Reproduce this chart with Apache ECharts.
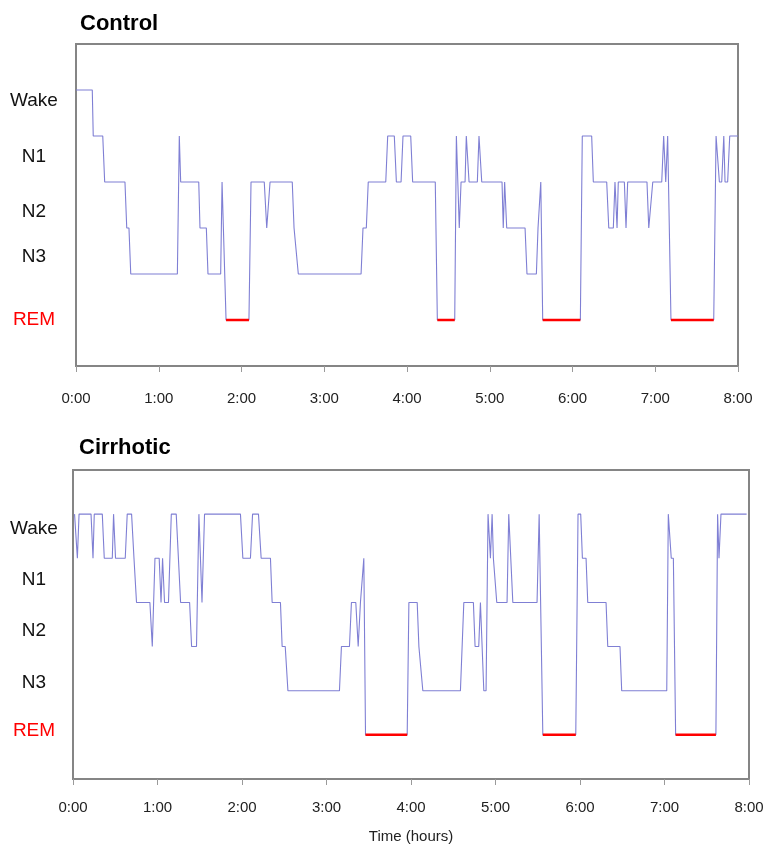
<!DOCTYPE html>
<html>
<head>
<meta charset="utf-8">
<script src="https://cdn.jsdelivr.net/npm/echarts@6/dist/echarts.min.js"></script>
<style>
  html, body { margin: 0; padding: 0; background: #fff; }
  #chart { width: 778px; height: 845px; }
</style>
</head>
<body>
<div id="chart"></div>
<script>
// stage levels: 5 = Wake, 4 = N1, 3 = N2, 2 = N3, 1 = deep, 0 = REM
const stageNames = ['Wake', 'N1', 'N2', 'N3', 'REM'];
const controlLabelAt = [4.76, 3.54, 2.35, 1.37, 0];
const cirrhoticLabelAt = [4.67, 3.52, 2.36, 1.19, 0.09];

// time in minutes from lights off
const controlTime = [
  0, 11.8, 12.5, 19.4, 20.8, 35.5, 36.8, 38.4, 39.7, 73.5,
  74.9, 75.9, 89.0, 89.9, 94.5, 95.7, 104.9, 105.9, 107.3, 108.8,
  125.4, 126.9, 136.5, 138.3, 139.2, 140.7, 156.8, 158.1, 159.3, 161.2,
  206.7, 208.1, 210.5, 211.9, 224.6, 226.0, 230.8, 232.3, 235.7, 237.1,
  242.7, 244.1, 260.5, 262.0, 274.6, 275.8, 277.9, 279.2, 282.1, 283.0,
  284.0, 285.0, 291.0, 292.2, 294.2, 308.9, 309.8, 310.8, 312.3, 325.6,
  327.0, 333.8, 335.0, 335.5, 337.0, 338.4, 365.7, 367.1, 373.9, 375.1,
  384.8, 386.3, 389.6, 390.8, 392.3, 393.2, 397.6, 398.8, 400.0, 414.0,
  415.3, 416.7, 418.2, 424.7, 426.1, 427.6, 429.0, 431.4, 462.4, 464.1,
  465.3, 466.5, 468.2, 469.7, 470.6, 472.5, 474.0, 480
];
const controlStage = [
  5, 5, 4, 4, 3, 3, 2, 2, 1, 1,
  4, 3, 3, 2, 2, 1, 1, 3, 3, 0,
  0, 3, 3, 2, 2, 3, 3, 2, 2, 1,
  1, 2, 2, 3, 3, 4, 4, 3, 3, 4,
  4, 3, 3, 0, 0, 4, 2, 3, 3, 4,
  4, 3, 3, 4, 3, 3, 2, 3, 2, 2,
  1, 1, 2, 2, 3, 0, 0, 4, 4, 3,
  3, 2, 2, 3, 2, 3, 3, 2, 3, 3,
  2, 2, 3, 3, 4, 3, 4, 0, 0, 4,
  4, 3, 3, 4, 3, 3, 4, 4
];

const cirrhoticTime = [
  1.1, 3.1, 4.3, 12.8, 14.2, 15.1, 20.8, 22.2, 27.9, 28.8,
  30.2, 37.1, 38.5, 41.6, 43.3, 44.0, 45.1, 54.6, 56.3, 57.2,
  58.2, 61.2, 62.5, 63.6, 65.0, 67.8, 69.8, 73.3, 76.4, 82.8,
  84.2, 87.7, 89.4, 91.6, 93.4, 118.9, 120.6, 126.0, 127.5, 131.7,
  133.6, 140.2, 141.4, 147.3, 148.5, 150.7, 152.6, 189.2, 190.6, 196.3,
  197.7, 200.8, 202.5, 204.1, 205.1, 206.5, 207.7, 237.3, 238.5, 244.4,
  245.6, 246.7, 248.4, 275.1, 277.5, 284.3, 285.5, 288.1, 289.3, 290.3,
  291.7, 293.3, 294.7, 296.4, 297.6, 298.5, 299.2, 300.9, 308.2, 309.4,
  310.4, 312.3, 329.5, 331.0, 331.6, 333.6, 357.0, 358.6, 360.5, 361.7,
  364.3, 365.5, 378.5, 379.7, 388.4, 389.6, 421.6, 422.7, 423.4, 424.8,
  426.3, 427.9, 456.5, 457.7, 458.7, 460.1, 478.3
];
const cirrhoticStage = [
  5, 4, 5, 5, 4, 5, 5, 4, 4, 5,
  4, 4, 5, 5, 4, 4, 3, 3, 2, 2,
  4, 4, 3, 4, 3, 3, 5, 5, 3, 3,
  2, 2, 5, 3, 5, 5, 4, 4, 5, 5,
  4, 4, 3, 3, 2, 2, 1, 1, 2, 2,
  3, 3, 2, 3, 3, 4, 0, 0, 3, 3,
  2, 2, 1, 1, 3, 3, 2, 2, 3, 3,
  1, 1, 5, 4, 5, 4, 4, 3, 3, 5,
  5, 3, 3, 5, 5, 0, 0, 5, 5, 4,
  4, 3, 3, 2, 2, 1, 1, 5, 5, 4,
  4, 0, 0, 5, 4, 5, 5
];

function pairs (times, stages) {
  return times.map((t, i) => [t, stages[i]]);
}
// only the REM runs, everything else left empty so the line breaks
function remPairs (times, stages) {
  return times.map((t, i) => [t, stages[i] === 0 ? 0 : null]);
}

const chart = echarts.init(document.getElementById('chart'));
const font = 'Liberation Sans, Arial, sans-serif';

function xAxisFor (gridIndex, labelMargin, withName) {
  return {
    gridIndex: gridIndex,
    type: 'value',
    min: 0,
    max: 480,
    interval: 60,
    axisLine: { show: false, onZero: false },
    axisTick: { show: true, length: 6, lineStyle: { color: '#9a9a9a', width: 1 } },
    splitLine: { show: false },
    axisLabel: {
      margin: labelMargin,
      fontSize: 15,
      color: '#222',
      fontFamily: font,
      formatter: v => (v / 60) + ':00'
    },
    name: withName ? 'Time (hours)' : '',
    nameLocation: 'middle',
    nameGap: 50,
    nameTextStyle: { fontSize: 15, color: '#222', fontFamily: font }
  };
}

function yAxisFor (gridIndex, labelAt, margin) {
  return {
    gridIndex: gridIndex,
    type: 'value',
    min: -1,
    max: 6,
    axisLine: { show: false, onZero: false },
    axisTick: { show: false },
    splitLine: { show: false },
    axisLabel: {
      customValues: labelAt,
      margin: margin,
      align: 'center',
      fontSize: 19,
      color: '#111',
      fontFamily: font,
      formatter: v => {
        const name = stageNames[labelAt.indexOf(v)];
        return name === 'REM' ? '{rem|REM}' : name;
      },
      rich: {
        rem: { color: '#ff0000', fontSize: 19, fontFamily: font }
      }
    }
  };
}

const lineColor = '#7f7fd4';
const remColor = '#ff0000';

chart.setOption({
  animation: false,
  backgroundColor: '#fff',
  title: [
    { text: 'Control', left: 75, top: 8, textStyle: { fontSize: 22, fontWeight: 'bold', color: '#000', fontFamily: font } },
    { text: 'Cirrhotic', left: 74, top: 432, textStyle: { fontSize: 22, fontWeight: 'bold', color: '#000', fontFamily: font } }
  ],
  grid: [
    { left: 76, top: 44, width: 662, height: 322, show: true, borderColor: '#858585', borderWidth: 2, backgroundColor: 'transparent', outerBoundsMode: 'none', containLabel: false },
    { left: 73, top: 470, width: 676, height: 309, show: true, borderColor: '#858585', borderWidth: 2, backgroundColor: 'transparent', outerBoundsMode: 'none', containLabel: false }
  ],
  xAxis: [xAxisFor(0, 25, false), xAxisFor(1, 21, true)],
  yAxis: [yAxisFor(0, controlLabelAt, 42), yAxisFor(1, cirrhoticLabelAt, 39)],
  series: [
    {
      name: 'Control',
      type: 'line',
      xAxisIndex: 0,
      yAxisIndex: 0,
      showSymbol: false,
      data: pairs(controlTime, controlStage),
      lineStyle: { color: lineColor, width: 1.1 }
    },
    {
      name: 'Control REM',
      type: 'line',
      xAxisIndex: 0,
      yAxisIndex: 0,
      showSymbol: false,
      connectNulls: false,
      data: remPairs(controlTime, controlStage),
      lineStyle: { color: remColor, width: 2.5 }
    },
    {
      name: 'Cirrhotic',
      type: 'line',
      xAxisIndex: 1,
      yAxisIndex: 1,
      showSymbol: false,
      data: pairs(cirrhoticTime, cirrhoticStage),
      lineStyle: { color: lineColor, width: 1.1 }
    },
    {
      name: 'Cirrhotic REM',
      type: 'line',
      xAxisIndex: 1,
      yAxisIndex: 1,
      showSymbol: false,
      connectNulls: false,
      data: remPairs(cirrhoticTime, cirrhoticStage),
      lineStyle: { color: remColor, width: 2.5 }
    }
  ]
});
</script>
</body>
</html>
